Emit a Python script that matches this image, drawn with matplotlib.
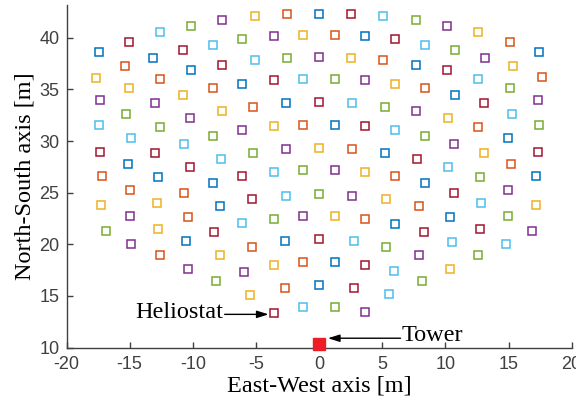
import matplotlib
matplotlib.use("Agg")
import matplotlib.pyplot as plt

plt.rcParams["axes.unicode_minus"] = False

# Heliostat positions [m], grouped by the colour they are drawn in.
blue_x = [-17.43, -13.13, -10.17, -15.16, -12.73, 0.0, -6.08, -2.63, -8.41, -7.88, -2.73, 0.0, -10.57,
          3.60, 7.64, 1.23, 5.19, 8.41, 10.33, 6.03, 1.23, 17.40, 10.78, 14.95, 17.20]
blue_y = [38.64, 38.01, 36.84, 27.77, 26.51, 42.32, 35.52, 33.65, 25.90, 23.71, 20.32, 16.06, 20.32,
          40.14, 37.36, 31.55, 28.81, 25.90, 22.61, 21.96, 18.29, 38.64, 34.45, 30.26, 26.61]

orange_x = [-15.40, -12.63, -17.20, -2.55, -8.41, -5.24, -1.25, -5.32, -1.25, -2.73, -15.00, -10.70, -10.39,
            -12.63, 1.23, 5.05, 8.41, 2.63, 6.03, 7.88, 3.60, 15.08, 17.62, 12.57, 15.16]
orange_y = [37.23, 36.00, 26.61, 42.32, 35.10, 33.26, 31.55, 19.74, 18.29, 15.80, 25.26, 25.00, 22.61,
            18.96, 40.26, 37.84, 35.10, 29.20, 26.64, 23.71, 22.45, 39.58, 36.17, 31.33, 27.77]

yellow_x = [-17.64, -15.08, -10.78, -5.11, -1.25, -7.70, -3.58, 0.0, -7.88, -3.58, -5.50, -17.24, -12.84,
            -12.73, 2.49, 6.03, 10.20, 3.60, 5.27, 1.23, 10.33, 12.57, 15.34, 13.02, 17.20]
yellow_y = [36.13, 35.10, 34.45, 42.10, 40.26, 32.90, 31.45, 29.35, 18.94, 18.00, 15.12, 23.83, 23.97,
            21.45, 38.01, 35.52, 32.23, 26.97, 24.36, 22.77, 17.61, 40.52, 37.23, 28.81, 23.83]

purple_x = [-17.32, -13.02, -10.25, -7.70, -3.58, 0.0, -6.08, -2.65, -1.25, -5.95, -15.00, -14.87, -10.39,
            10.15, 3.60, 7.64, 10.67, 1.23, 2.63, 7.88, 3.60, 13.10, 17.32, 14.95, 16.85]
purple_y = [33.97, 33.68, 32.26, 41.68, 40.14, 38.13, 31.06, 29.20, 22.77, 17.35, 22.74, 20.00, 17.61,
            41.16, 35.90, 32.90, 29.71, 27.22, 24.70, 18.94, 13.42, 38.01, 33.94, 25.26, 21.32]

green_x = [-10.17, -15.27, -12.63, -6.08, -2.55, -8.41, -5.24, -1.25, 0.0, -3.58, -8.19, -16.90, 7.64,
           1.23, 5.19, 8.41, 5.27, 8.17, 1.23, 10.78, 15.08, 17.43, 12.71, 14.95, 12.57]
green_y = [41.16, 32.61, 31.36, 39.85, 38.01, 30.51, 28.81, 27.22, 24.87, 22.48, 16.48, 21.32, 41.68,
           36.03, 33.29, 30.51, 19.71, 16.45, 13.96, 38.81, 35.10, 31.55, 26.51, 22.77, 18.96]

lightblue_x = [-12.60, -17.43, -14.92, -10.70, -8.41, -5.08, -1.25, -7.80, -3.58, -2.63, -6.08, -1.25, 5.05,
               8.41, 2.63, 6.03, 10.20, 2.76, 10.51, 5.92, 5.50, 12.57, 15.27, 12.79, 14.82]
lightblue_y = [40.52, 31.55, 30.29, 29.71, 39.32, 37.84, 36.03, 28.29, 26.97, 24.70, 22.03, 13.96, 42.10,
               39.32, 33.65, 31.06, 27.51, 20.29, 20.25, 17.39, 15.16, 36.03, 32.61, 23.97, 20.03]

darkred_x = [-15.08, -10.78, -13.02, -17.32, -10.25, -7.70, -3.58, 0.0, -6.08, -5.32, -8.30, 0.0, -3.58,
             2.49, 6.03, 10.15, 3.60, 7.78, 10.67, 8.30, 3.60, 2.76, 13.02, 17.32, 12.71]
darkred_y = [39.58, 38.81, 28.81, 28.91, 27.51, 37.36, 35.90, 33.80, 26.61, 24.36, 21.19, 20.51, 13.38,
             42.32, 39.87, 36.84, 31.42, 28.29, 25.00, 21.19, 18.03, 15.80, 33.68, 28.94, 21.45]

tower_x = [0.0]
tower_y = [10.35]

groups = [
    (blue_x, blue_y, "#0072BD"),
    (orange_x, orange_y, "#D95319"),
    (yellow_x, yellow_y, "#EDB120"),
    (purple_x, purple_y, "#7E2F8E"),
    (green_x, green_y, "#77AC30"),
    (lightblue_x, lightblue_y, "#4DBEEE"),
    (darkred_x, darkred_y, "#A2142F"),
]

serif = "Liberation Serif"
sans = "Liberation Sans"
axis_grey = "#404040"

fig = plt.figure(figsize=(5.76, 4.07), dpi=100)
ax = fig.add_axes([0.1155, 0.1459, 0.877, 0.8418])

for xs, ys, c in groups:
    ax.plot(xs, ys, linestyle="none", marker="s", markersize=6.2,
            markerfacecolor="none", markeredgecolor=c, markeredgewidth=1.1)

# Tower sits on the bottom axis line, so let the marker spill over it.
ax.plot(tower_x, tower_y, linestyle="none", marker="s", markersize=8.8,
        color="#EE1C24", clip_on=False, zorder=5)

# Labels with arrows.
ax.annotate("", xy=(-4.0, 13.22), xytext=(-7.48, 13.22),
            arrowprops=dict(arrowstyle="-|>,head_length=0.7,head_width=0.22", color="black", lw=1.0,
                            shrinkA=0, shrinkB=0))
ax.text(-7.62, 12.89, "Heliostat", family=serif, fontsize=17.5, ha="right", va="baseline")

ax.annotate("", xy=(0.70, 10.91), xytext=(6.45, 10.91),
            arrowprops=dict(arrowstyle="-|>,head_length=0.7,head_width=0.22", color="black", lw=1.0,
                            shrinkA=0, shrinkB=0), annotation_clip=False)
ax.text(6.56, 10.64, "Tower", family=serif, fontsize=17.5, ha="left", va="baseline")

ax.set_xlim(-20, 20)
ax.set_ylim(10, 43.17)
ax.set_xticks(range(-20, 21, 5))
ax.set_yticks(range(10, 41, 5))

for side in ("top", "right"):
    ax.spines[side].set_visible(False)
for side in ("left", "bottom"):
    ax.spines[side].set_color(axis_grey)
    ax.spines[side].set_linewidth(1.0)

ax.tick_params(direction="in", length=4, width=1.0, color=axis_grey, labelcolor=axis_grey,
               labelsize=13)
ax.tick_params(axis="x", pad=6)
ax.tick_params(axis="y", pad=5)
for lab in ax.get_xticklabels() + ax.get_yticklabels():
    lab.set_family(sans)

ax.set_xlabel("East-West axis [m]", family=serif, fontsize=17.5, va="center")
ax.set_ylabel("North-South axis [m]", family=serif, fontsize=17.5, va="center")
ax.xaxis.set_label_coords(0.5, -0.112)
ax.yaxis.set_label_coords(-0.082, 0.5)

fig.savefig("out.png", dpi=100)
